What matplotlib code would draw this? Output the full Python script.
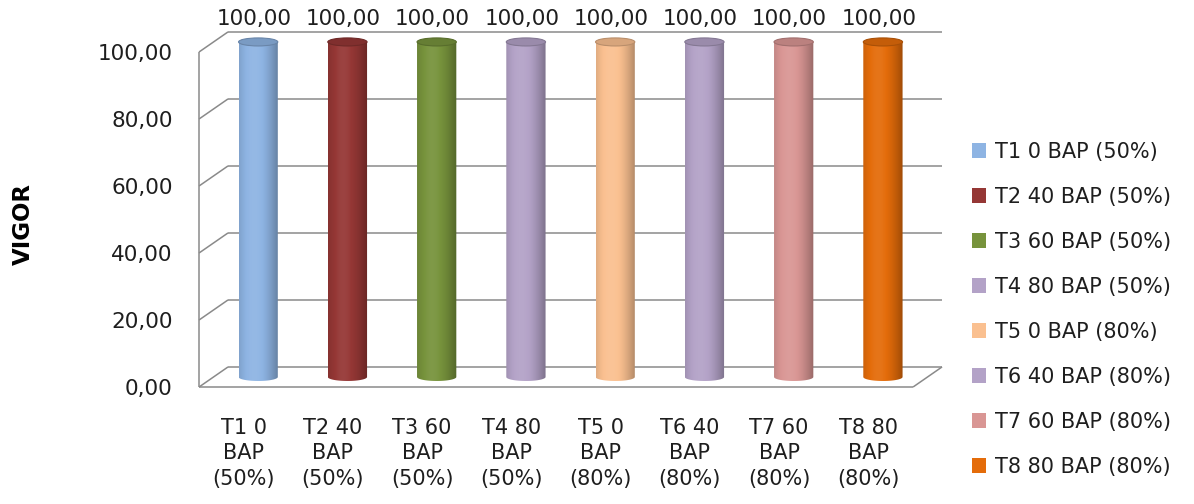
import numpy as np
import matplotlib
matplotlib.use("Agg")
import matplotlib.pyplot as plt
from matplotlib.patches import Ellipse, Patch, PathPatch
from matplotlib.path import Path
from matplotlib.colors import to_rgb

# ── data ──────────────────────────────────────────────────────────────────────
treatments = ["T1 0 BAP (50%)", "T2 40 BAP (50%)", "T3 60 BAP (50%)", "T4 80 BAP (50%)",
              "T5 0 BAP (80%)", "T6 40 BAP (80%)", "T7 60 BAP (80%)", "T8 80 BAP (80%)"]
vigor = [100.00, 100.00, 100.00, 100.00, 100.00, 100.00, 100.00, 100.00]
y_ticks = [0, 20, 40, 60, 80, 100]
bar_colors = ["#8EB4E3", "#953735", "#77933C", "#B3A2C7",
              "#FAC090", "#B3A2C7", "#D99694", "#E46C0A"]

GRID = "#8a8a8a"
TXT = "#1e1e1e"
DEPTH_X, DEPTH_Y = 0.325, 6.0   # oblique shift of the back wall, data units
CYL_W, CAP_H = 0.44, 1.2         # cylinder width / half height of the end caps


def fmt(v):
    return f"{v:.2f}".replace(".", ",")


def shade(color, n=80):
    """Horizontal strip that fakes the lighting on a cylinder."""
    base = np.array(to_rgb(color))
    t = np.linspace(0, 1, n)[:, None]
    b = 0.66 + 0.38 * np.cos((t - 0.38) * np.pi * 0.75)
    rgb = np.where(b <= 1, base * b, base + (1 - base) * (b - 1) * 1.5)
    return np.clip(rgb, 0, 1)[None, :, :]


fig = plt.figure(figsize=(11.94, 5.04), dpi=100)
ax = fig.add_axes([0.1667, 0.2321, 0.598, 0.7445])
for s in ax.spines.values():
    s.set_visible(False)

x0, x1 = -0.5, len(treatments) - 0.5

# ── walls / floor ────────────────────────────────────────────────────────────
line_kw = dict(color=GRID, lw=1.1, clip_on=False, zorder=1, solid_capstyle="butt")
for v in y_ticks:
    ax.plot([x0 + DEPTH_X, x1 + DEPTH_X], [v + DEPTH_Y] * 2, **line_kw)
    ax.plot([x0, x0 + DEPTH_X], [v, v + DEPTH_Y], **line_kw)
ax.plot([x0, x0], [0, y_ticks[-1]], **line_kw)
ax.plot([x0, x1], [0, 0], **line_kw)
ax.plot([x1, x1 + DEPTH_X], [0, DEPTH_Y], **line_kw)

# ── cylinders ────────────────────────────────────────────────────────────────
for i, (val, col) in enumerate(zip(vigor, bar_colors)):
    xc = i + DEPTH_X / 2
    y0 = DEPTH_Y / 2
    y1 = val + DEPTH_Y / 2
    th = np.linspace(np.pi, 2 * np.pi, 40)
    verts = np.column_stack([xc + CYL_W / 2 * np.cos(th), y0 + CAP_H * np.sin(th)])
    verts = np.vstack([verts, [[xc + CYL_W / 2, y1], [xc - CYL_W / 2, y1], verts[0]]])
    body = PathPatch(Path(verts, closed=True), facecolor="none", edgecolor="none")
    ax.add_patch(body)
    im = ax.imshow(shade(col), extent=(xc - CYL_W / 2, xc + CYL_W / 2, y0 - CAP_H, y1),
                   aspect="auto", interpolation="bicubic", zorder=2)
    im.set_clip_path(body)
    base = np.array(to_rgb(col))
    ax.add_patch(Ellipse((xc, y1), CYL_W, 2 * CAP_H, facecolor=base * 0.86,
                         edgecolor=base * 0.74, lw=0.8, zorder=3))
    ax.annotate(fmt(val), (xc, y1), xytext=(-3, 16.5), textcoords="offset points",
                ha="center", va="center", fontsize=15.5, color=TXT)

ax.set_xlim(x0, x1)
ax.set_ylim(0, 112)

# ── axes text ────────────────────────────────────────────────────────────────
ax.set_yticks(y_ticks, [fmt(v) for v in y_ticks])
ax.tick_params(axis="y", length=0, pad=19, labelsize=15.5, labelcolor=TXT)
ax.set_xticks(range(len(treatments)), [t.replace(" BAP ", "\nBAP\n") for t in treatments])
ax.tick_params(axis="x", length=0, pad=22, labelsize=15, labelcolor=TXT)
for lab in ax.get_xticklabels():
    lab.set_linespacing(1.36)

fig.text(0.02, 0.556, "VIGOR", rotation=90, fontsize=16.5, fontweight="bold",
         ha="center", va="center", color="black")

handles = [Patch(facecolor=c, edgecolor="none", label=t) for t, c in zip(treatments, bar_colors)]
fig.legend(handles=handles, loc="center left", bbox_to_anchor=(0.814, 0.386), frameon=False,
           fontsize=15, handlelength=0.7, handleheight=0.7, handletextpad=0.4,
           labelspacing=1.2, borderpad=0, borderaxespad=0, labelcolor=TXT)

fig.savefig("out.png", dpi=100)
